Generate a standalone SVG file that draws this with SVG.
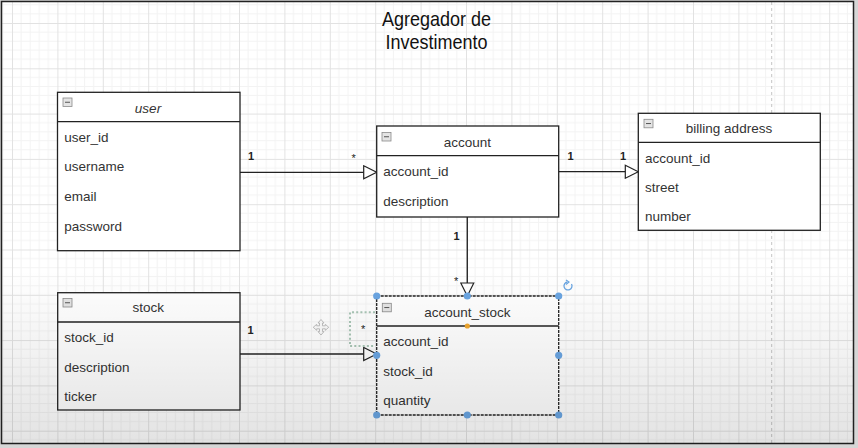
<svg xmlns="http://www.w3.org/2000/svg" width="858" height="448" viewBox="0 0 858 448">
<defs>
<pattern id="grid" x="12" y="23" width="45.4" height="45.3" patternUnits="userSpaceOnUse">
<path d="M9.08,0V45.3M18.16,0V45.3M27.24,0V45.3M36.32,0V45.3M0,9.06H45.4M0,18.12H45.4M0,27.18H45.4M0,36.24H45.4" stroke="#f3f3f3" stroke-width="1" fill="none"/>
<path d="M0.5,0V45.3M0,0.5H45.4" stroke="#e2e2e2" stroke-width="1" fill="none"/>
</pattern>
<linearGradient id="shade" x1="0" y1="0" x2="0" y2="1">
<stop offset="0" stop-color="#000" stop-opacity="0"/>
<stop offset="1" stop-color="#000" stop-opacity="0.11"/>
</linearGradient>
<marker id="tri" markerUnits="userSpaceOnUse" markerWidth="15" markerHeight="15" viewBox="-1 -1 15 15" refX="13" refY="6.5" orient="auto">
<path d="M0,0 L13,6.5 L0,13 Z" fill="#fff" stroke="#222" stroke-width="1.2"/>
</marker>
<g id="minus">
<rect x="0" y="0" width="9" height="8.5" fill="#e4e4e4" stroke="#8a8a8a" stroke-width="0.8"/>
<line x1="2" y1="4.25" x2="7" y2="4.25" stroke="#555" stroke-width="1"/>
</g>
</defs>
<style>
.box{fill:#fff;stroke:#222;stroke-width:1.3}
.sep{stroke:#222;stroke-width:1.3}
.t{font-family:"Liberation Sans",Arial,sans-serif;font-size:13.5px;fill:#333}
.h{text-anchor:middle}
.lbl{font-family:"Liberation Sans",Arial,sans-serif;font-size:11px;font-weight:bold;fill:#222}
.star{font-family:"Liberation Sans",Arial,sans-serif;font-size:11px;fill:#222}
.edge{stroke:#222;stroke-width:1.3;fill:none;marker-end:url(#tri)}
.hd{fill:#6aa5e2}
</style>
<rect x="0" y="0" width="858" height="448" fill="#d6d6d6"/>
<rect x="1.5" y="1.5" width="852" height="442" fill="#fff"/>
<rect x="1.5" y="1.5" width="852" height="442" fill="url(#grid)"/>
<line x1="771.7" y1="2" x2="771.7" y2="443" stroke="#c4c4c4" stroke-width="1" stroke-dasharray="3,3"/>
<rect x="1.5" y="1.5" width="852" height="442" fill="none" stroke="#222" stroke-width="1.5"/>

<g id="title">
<text transform="translate(436.5,26) scale(0.9,1)" text-anchor="middle" font-family="'Liberation Sans',Arial,sans-serif" font-size="20" fill="#111">Agregador de</text>
<text transform="translate(436.5,49) scale(0.9,1)" text-anchor="middle" font-family="'Liberation Sans',Arial,sans-serif" font-size="20" fill="#111">Investimento</text>
</g>

<g id="connectors">
<path class="edge" d="M240,172.3 H376.7"/>
<path class="edge" d="M558.7,171.7 H638.3"/>
<path class="edge" d="M467.3,217 V296"/>
<path class="edge" d="M240,354 H376.7"/>
<text class="lbl" x="248" y="160">1</text>
<text class="star" x="351.5" y="162">*</text>
<text class="lbl" x="567.5" y="159.5">1</text>
<text class="lbl" x="620" y="159.5">1</text>
<text class="lbl" x="453.5" y="240">1</text>
<text class="star" x="454" y="284.5">*</text>
<text class="lbl" x="247.5" y="334">1</text>
<text class="star" x="361" y="333">*</text>
</g>

<g id="user">
<rect class="box" x="57.5" y="92.3" width="182.5" height="158.4"/>
<line class="sep" x1="57.5" y1="121.7" x2="240" y2="121.7"/>
<use href="#minus" x="63" y="98"/>
<text class="t h" x="148" y="112.5" font-style="italic">user</text>
<text class="t" x="64.3" y="142">user_id</text>
<text class="t" x="64.3" y="171">username</text>
<text class="t" x="64.3" y="201">email</text>
<text class="t" x="64.3" y="231">password</text>
</g>

<g id="account">
<rect class="box" x="376.7" y="126" width="182" height="91"/>
<line class="sep" x1="376.7" y1="155.7" x2="558.7" y2="155.7"/>
<use href="#minus" x="382" y="132.5"/>
<text class="t h" x="467.3" y="147">account</text>
<text class="t" x="383.3" y="176.3">account_id</text>
<text class="t" x="383.3" y="205.7">description</text>
</g>

<g id="billing-address">
<rect class="box" x="638.3" y="113.3" width="182" height="117"/>
<line class="sep" x1="638.3" y1="142.3" x2="820.3" y2="142.3"/>
<use href="#minus" x="644" y="119.3"/>
<text class="t h" x="729" y="133">billing address</text>
<text class="t" x="645" y="163">account_id</text>
<text class="t" x="645" y="192">street</text>
<text class="t" x="645" y="221.4">number</text>
</g>

<g id="stock">
<rect class="box" x="57.7" y="292.7" width="182.3" height="117.3"/>
<line class="sep" x1="57.7" y1="322" x2="240" y2="322"/>
<use href="#minus" x="63" y="298.5"/>
<text class="t h" x="148.3" y="312.4">stock</text>
<text class="t" x="64.3" y="342">stock_id</text>
<text class="t" x="64.3" y="372">description</text>
<text class="t" x="64.3" y="401.4">ticker</text>
</g>

<g id="account_stock">
<rect class="box" x="376.7" y="296" width="182" height="119" stroke-dasharray="3,1"/>
<line class="sep" x1="376.7" y1="326" x2="558.7" y2="326"/>
<use href="#minus" x="382.3" y="303.3"/>
<text class="t h" x="467.3" y="317">account_stock</text>
<text class="t" x="383.3" y="346.4">account_id</text>
<text class="t" x="383.3" y="375.7">stock_id</text>
<text class="t" x="383.3" y="405.4">quantity</text>
</g>

<g id="selection">
<path d="M375,312.3 H350 V346 H375" fill="none" stroke="#a9c6b6" stroke-width="2" stroke-dasharray="2,2.2"/>
<circle class="hd" cx="376.7" cy="296" r="3.6"/>
<circle class="hd" cx="467.3" cy="296" r="3.6"/>
<circle class="hd" cx="558.7" cy="296" r="3.6"/>
<circle class="hd" cx="376.7" cy="355.3" r="3.6"/>
<circle class="hd" cx="558.7" cy="355.3" r="3.6"/>
<circle class="hd" cx="376.7" cy="415" r="3.6"/>
<circle class="hd" cx="467.3" cy="415" r="3.6"/>
<circle class="hd" cx="558.7" cy="415" r="3.6"/>
<circle cx="467.3" cy="326" r="2.6" fill="#f0a830"/>
<path d="M571.5,284 A4,4 0 1 1 567.3,282" fill="none" stroke="#6aa5e2" stroke-width="1.3"/>
<path d="M566,280 L569,282 L566,284.5" fill="none" stroke="#6aa5e2" stroke-width="1.2"/>
<path d="M321,319.5 L324,323 H322.5 V325.8 H325.3 V324.3 L328.8,327.3 L325.3,330.3 V328.8 H322.5 V331.6 H324 L321,335 L318,331.6 H319.5 V328.8 H316.7 V330.3 L313.2,327.3 L316.7,324.3 V325.8 H319.5 V323 H318 Z" fill="#fafafa" stroke="#b8b8b8" stroke-width="0.9"/>
</g>

<rect x="1.5" y="270" width="852" height="174" fill="url(#shade)"/>
</svg>
